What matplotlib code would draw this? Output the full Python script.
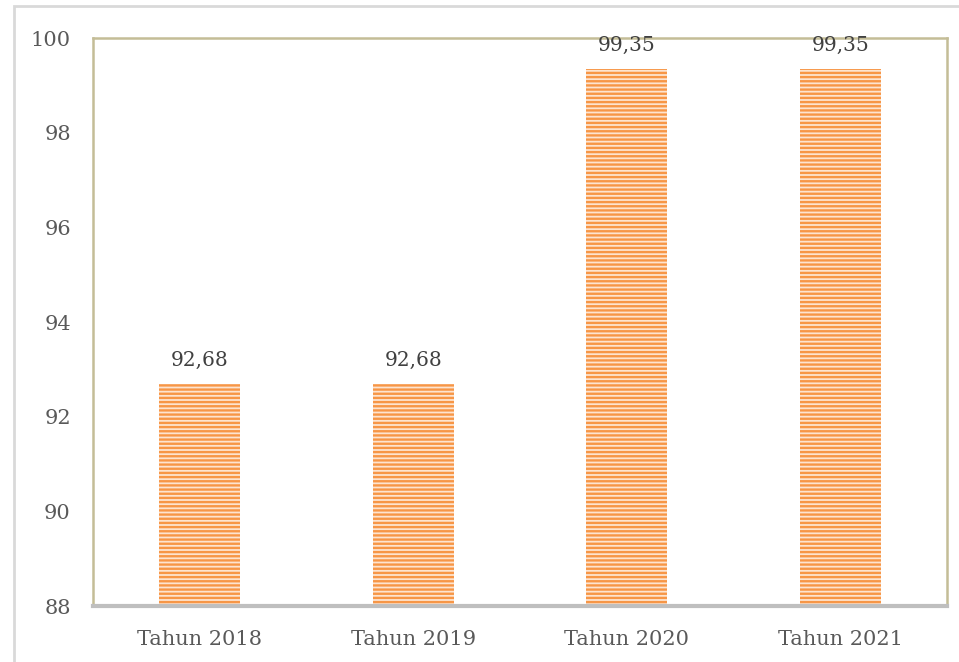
import matplotlib.pyplot as plt
from matplotlib.patches import Rectangle

categories = ['Tahun 2018', 'Tahun 2019', 'Tahun 2020', 'Tahun 2021']
values = [92.68, 92.68, 99.35, 99.35]
value_labels = ['92,68', '92,68', '99,35', '99,35']
y_ticks = [88, 90, 92, 94, 96, 98, 100]

plt.rcParams['font.family'] = ['DejaVu Serif']
plt.rcParams['hatch.linewidth'] = 1.7

fig = plt.figure(figsize=(9.59, 6.62), dpi=100)
ax = fig.add_axes([93 / 959, 1 - 606 / 662, 854 / 959, 568 / 662])

# outer chart-area frame
fig.patches.append(Rectangle((14 / 959, -0.1), 1.0, 1 - 6 / 662 + 0.1,
                             transform=fig.transFigure, fill=False,
                             edgecolor='#D9D9D9', lw=2.0))

x = range(len(categories))
base = y_ticks[0]
# hatch takes the edge colour, so keep the edge line itself at zero width
bars = ax.bar(x, [v - base for v in values], bottom=base, width=0.38,
              color='#FDE4D0', edgecolor='#F79646', lw=0, hatch='----',
              zorder=2)

for xi, v, lab in zip(x, values, value_labels):
    ax.text(xi, v + 0.3, lab, ha='center', va='bottom', fontsize=14.5,
            color='#404040')

ax.set_xlim(-0.5, 3.5)
ax.set_ylim(88, 100)
ax.set_yticks(y_ticks)
ax.set_xticks(list(x))
ax.set_xticklabels(categories)
ax.tick_params(axis='both', length=0, labelsize=15, labelcolor='#595959')
ax.tick_params(axis='y', pad=16)
ax.tick_params(axis='x', pad=17)

for side in ['top', 'left', 'right']:
    ax.spines[side].set_color('#C4BD97')
    ax.spines[side].set_linewidth(1.8)
ax.spines['bottom'].set_color('#BFBFBF')
ax.spines['bottom'].set_linewidth(3)

fig.savefig('out.png', dpi=100)
